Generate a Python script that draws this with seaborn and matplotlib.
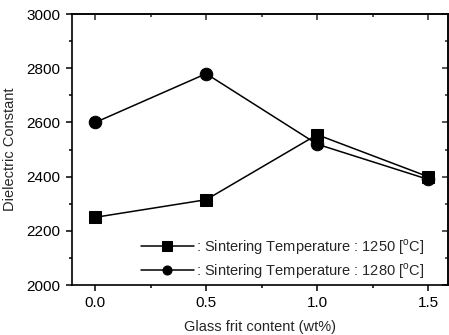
import matplotlib
matplotlib.use("Agg")
import matplotlib.pyplot as plt
from matplotlib.ticker import MultipleLocator, FormatStrFormatter
import pandas as pd
import seaborn as sns

frit_content = [0.0, 0.5, 1.0, 1.5]
eps_1250 = [2250, 2315, 2555, 2400]
eps_1280 = [2600, 2780, 2520, 2390]
labels = [": Sintering Temperature : 1250 [$^\\mathrm{o}$C]",
          ": Sintering Temperature : 1280 [$^\\mathrm{o}$C]"]

df = pd.DataFrame({
    "x": frit_content * 2,
    "y": eps_1250 + eps_1280,
    "series": [labels[0]] * 4 + [labels[1]] * 4,
})

sns.set_theme(style="ticks")
plt.rcParams["font.family"] = ["Liberation Sans", "DejaVu Sans"]
plt.rcParams["mathtext.fontset"] = "custom"
plt.rcParams["mathtext.rm"] = "Liberation Sans"

fig = plt.figure(figsize=(4.49, 3.35), dpi=100)
ax = fig.add_axes([0.160, 0.149, 0.838, 0.809])

sns.lineplot(data=df, x="x", y="y", hue="series", style="series",
             palette=["black", "black"], markers=["s", "o"], dashes=False,
             markersize=9, linewidth=1.1, markeredgecolor="black",
             legend=True, ax=ax)

ax.set_xlim(-0.105, 1.59)
ax.set_ylim(2000, 3000)
ax.xaxis.set_major_locator(MultipleLocator(0.5))
ax.xaxis.set_minor_locator(MultipleLocator(0.25))
ax.yaxis.set_major_locator(MultipleLocator(200))
ax.yaxis.set_minor_locator(MultipleLocator(100))
ax.xaxis.set_major_formatter(FormatStrFormatter("%.1f"))

ax.tick_params(which="both", direction="out", labelsize=11, width=1.1,
               colors="black", pad=4)
ax.tick_params(which="major", length=4)
ax.tick_params(which="minor", length=2.5)

# mirrored ticks on top and right point into the frame
ax_top = ax.secondary_xaxis("top")
ax_top.xaxis.set_major_locator(MultipleLocator(0.5))
ax_top.xaxis.set_minor_locator(MultipleLocator(0.25))
ax_top.tick_params(which="both", direction="in", labeltop=False, width=1.1)
ax_top.tick_params(which="major", length=4)
ax_top.tick_params(which="minor", length=2.5)
ax_top.spines["top"].set_linewidth(1.2)
ax_right = ax.secondary_yaxis("right")
ax_right.yaxis.set_major_locator(MultipleLocator(200))
ax_right.yaxis.set_minor_locator(MultipleLocator(100))
ax_right.tick_params(which="both", direction="in", labelright=False, width=1.1)
ax_right.tick_params(which="major", length=4)
ax_right.tick_params(which="minor", length=2.5)
ax_right.spines["right"].set_linewidth(1.2)

for sp in ax.spines.values():
    sp.set_linewidth(1.2)
    sp.set_color("black")

ax.set_xlabel("Glass frit content (wt%)", fontsize=10.5, labelpad=7)
ax.set_ylabel("Dielectric Constant", fontsize=10.5, labelpad=7)

handles, lbls = ax.get_legend_handles_labels()
for h in handles:
    h.set_markersize(6.5)
ax.legend(handles, lbls, loc="lower right", frameon=False,
          fontsize=10.5, handlelength=3.6, handletextpad=0.15,
          labelspacing=0.3, borderaxespad=0.0,
          bbox_to_anchor=(0.952, -0.005))

fig.savefig("out.png", dpi=100)
